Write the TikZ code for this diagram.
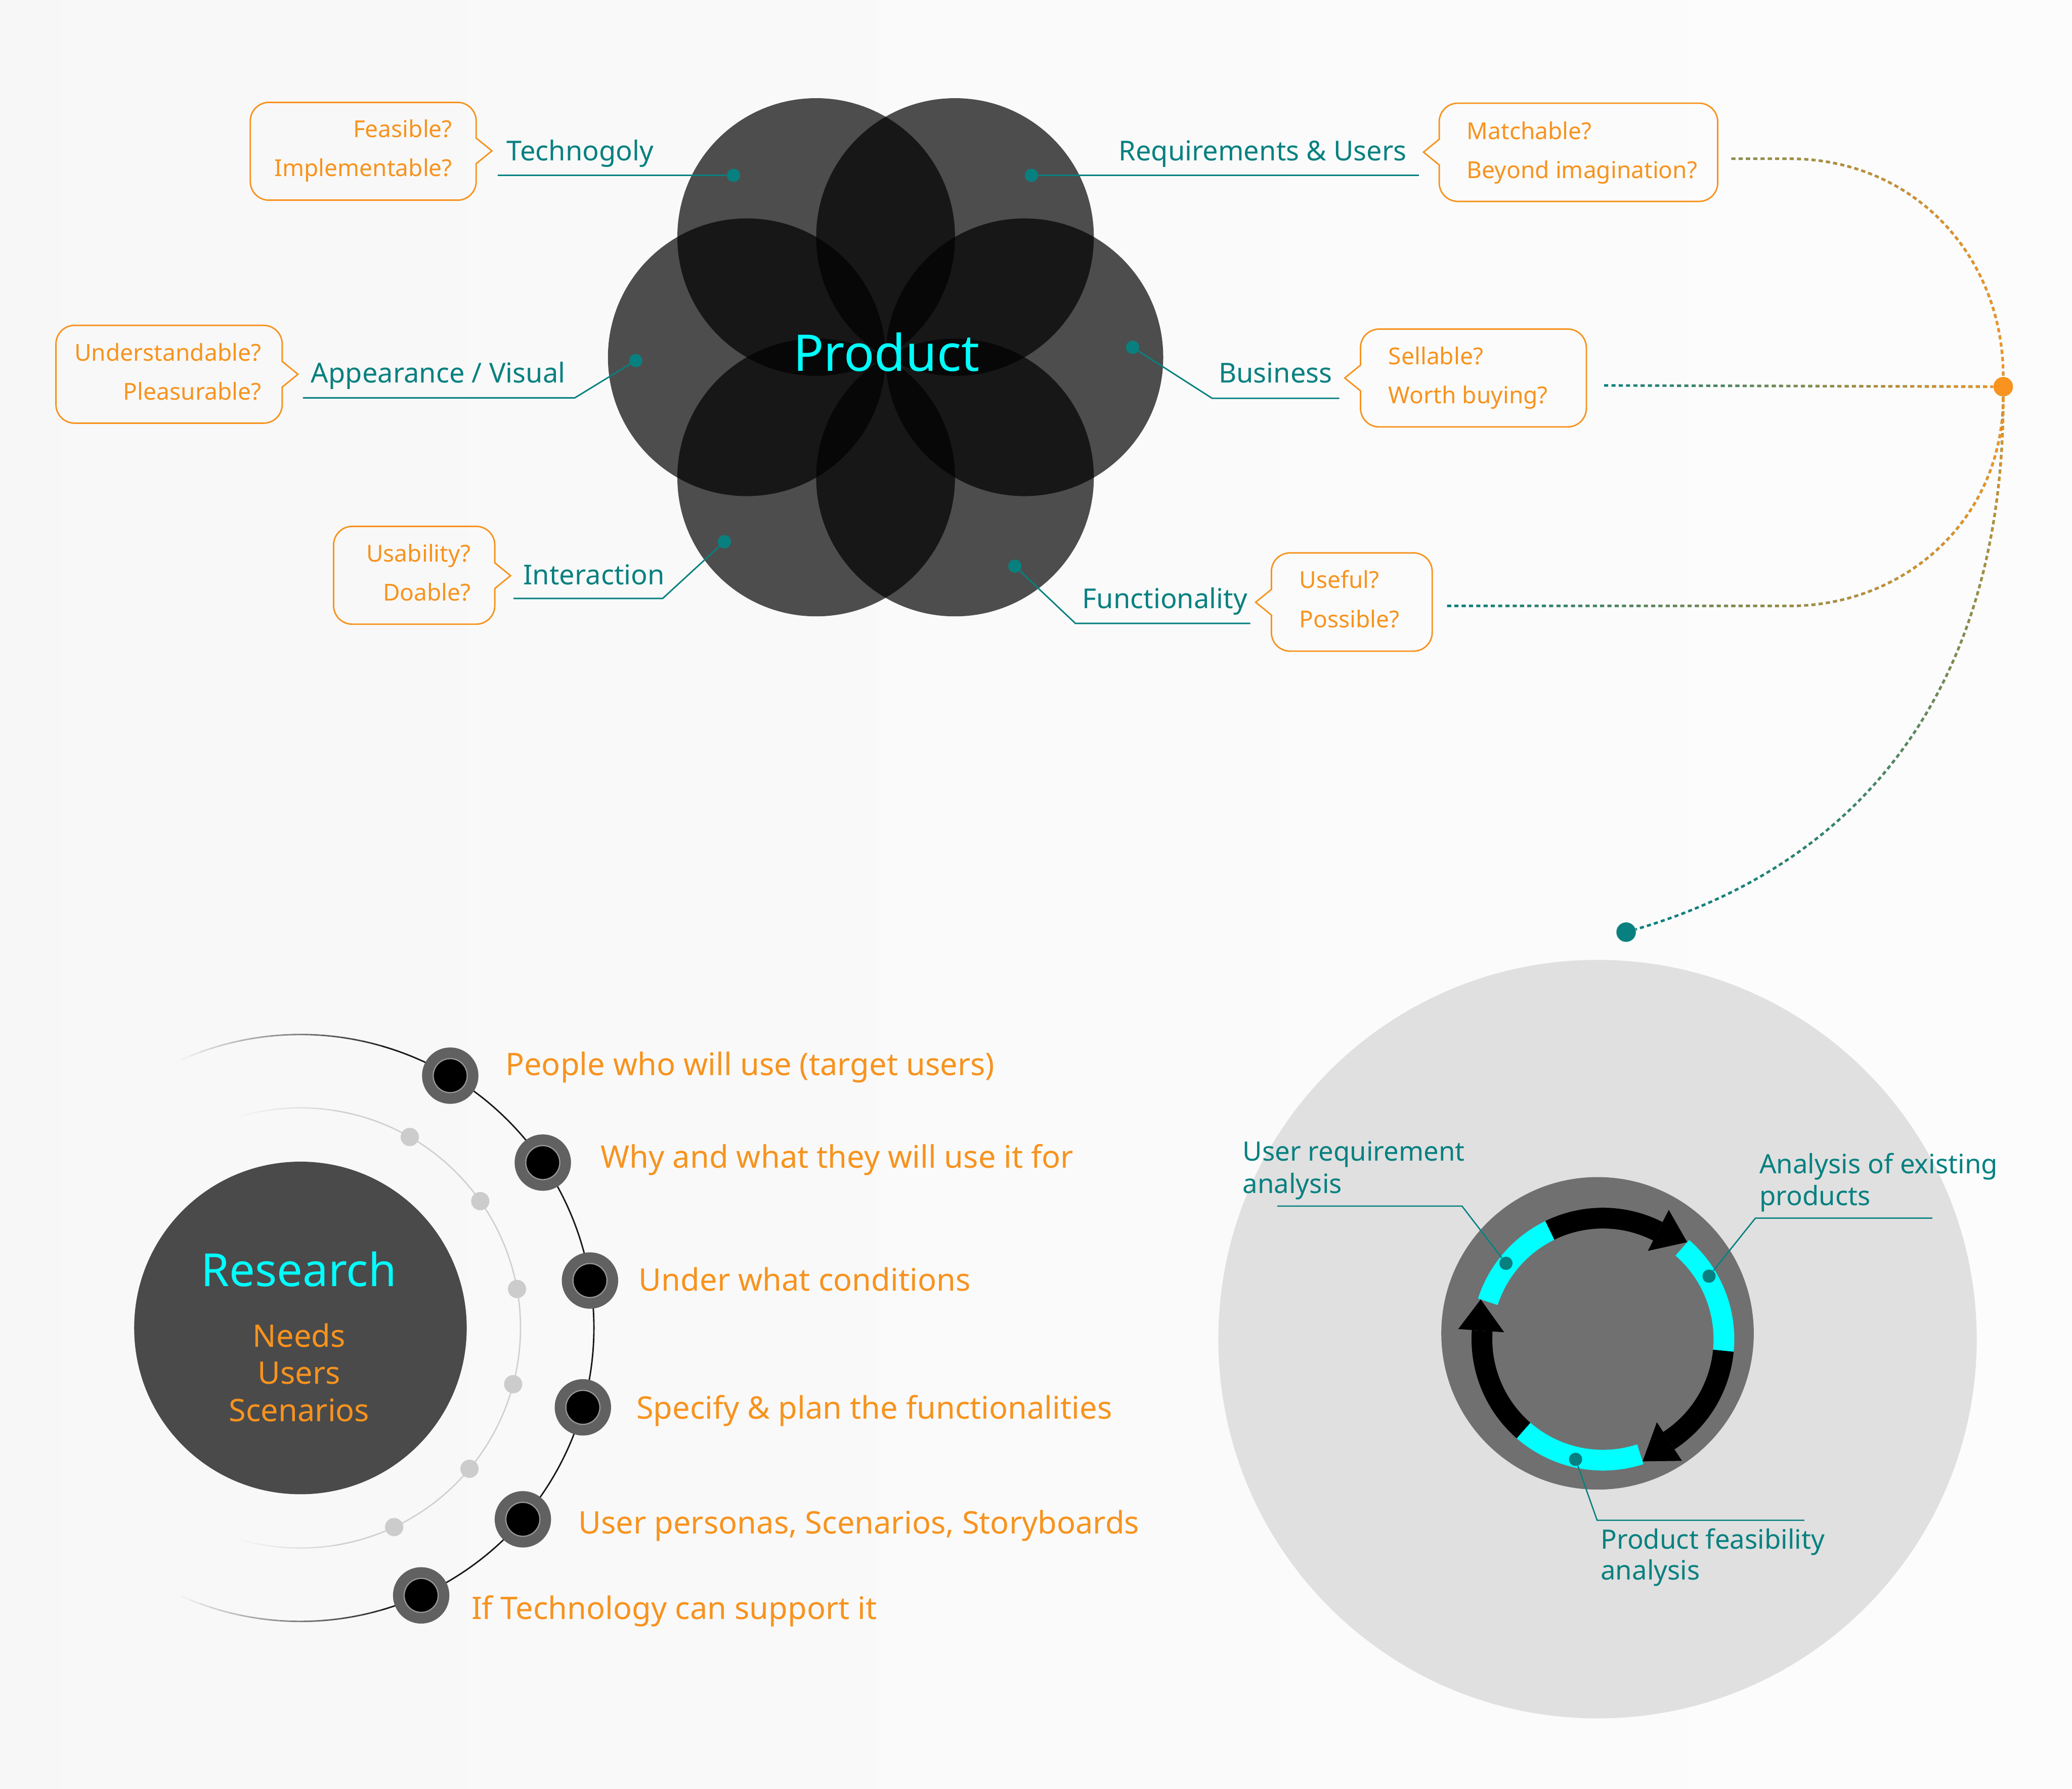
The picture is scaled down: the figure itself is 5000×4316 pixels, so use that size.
\documentclass[tikz,border=0pt]{standalone}
\usepackage{fontspec}
\setmainfont{Noto Sans}
\usetikzlibrary{fadings}
\definecolor{tealc}{RGB}{8,128,128}
\definecolor{orangec}{RGB}{247,147,30}
\definecolor{cyanc}{RGB}{0,255,255}
\tikzfading[name=fadeR, left color=transparent!100, right color=transparent!0]
\tikzfading[name=fadeRhalf, left color=transparent!45, right color=transparent!0]
\tikzfading[name=fadeT, top color=transparent!0, bottom color=transparent!100]
\newcommand{\fsz}[1]{\fontsize{#1}{#1}\selectfont}
% pointer on the right: L T R B pointer-mid (pixel units, y downwards)
\newcommand{\calloutR}[5]{%
\draw[callout] (#1+45,-#2) -- (#3-45,-#2) arc[start angle=90,end angle=0,radius=45]
 -- (#3,-#5+31) -- (#3+38,-#5) -- (#3,-#5-31) -- (#3,-#4+45)
 arc[start angle=0,end angle=-90,radius=45] -- (#1+45,-#4)
 arc[start angle=270,end angle=180,radius=45] -- (#1,-#2-45)
 arc[start angle=180,end angle=90,radius=45] -- cycle;}
% pointer on the left
\newcommand{\calloutL}[5]{%
\draw[callout] (#1+45,-#2) -- (#3-45,-#2) arc[start angle=90,end angle=0,radius=45]
 -- (#3,-#4+45) arc[start angle=0,end angle=-90,radius=45] -- (#1+45,-#4)
 arc[start angle=270,end angle=180,radius=45] -- (#1,-#5-31) -- (#1-38,-#5) -- (#1,-#5+31)
 -- (#1,-#2-45) arc[start angle=180,end angle=90,radius=45] -- cycle;}
\tikzset{
 lbl/.style={text=tealc, font=\fsz{18.8}, inner sep=0},
 qtxt/.style={text=orangec, font=\fsz{16}, inner sep=0},
 ltxt/.style={text=orangec, font=\fsz{21.3}, inner sep=0},
 rtxt/.style={text=tealc, font=\fsz{18.3}, inner sep=0},
 callout/.style={draw=orangec, line width=1pt},
 conn/.style={draw=tealc, line width=1pt},
 tdot/.style={circle, fill=tealc, inner sep=0, minimum size=0.32cm},
 petal/.style={fill=black, fill opacity=0.69},
 dotl/.style={line width=1.7pt, dash pattern=on 2.8pt off 2.2pt},
 bigdot/.style={circle, inner sep=0, minimum size=0.47cm},
 gdot/.style={circle, fill=black!20, inner sep=0, minimum size=0.44cm},
 outring/.style={circle, fill=black!62, inner sep=0, minimum size=1.36cm},
 inblack/.style={circle, fill=black, draw=black!40, line width=0.8pt, inner sep=0, minimum size=0.82cm},
}
\begin{document}
\begin{tikzpicture}[x=0.01cm,y=0.01cm]
\useasboundingbox (0,0) rectangle (5000,-4316);
\shade[left color=black!3, right color=black!1] (0,0) rectangle (5000,-4316);

% ---------- Product flower ----------
\foreach \a in {0,60,...,300}
  \fill[petal] (2137,-862) ++(\a:335) circle[radius=335];
\node[font=\fsz{34.7}, text=cyanc, anchor=base, inner sep=0] (prod) at (2139,-895) {Product};

% dots on petals
\node[tdot] (dT) at (1770,-423) {};
\node[tdot] (dA) at (1534,-870) {};
\node[tdot] (dI) at (1748,-1307) {};
\node[tdot] (dR) at (2489,-423) {};
\node[tdot] (dB) at (2733,-838) {};
\node[tdot] (dF) at (2449,-1366) {};

% connector ends
\coordinate (eT) at (1201,-423);
\coordinate (kA) at (1387,-960); \coordinate (eA) at (731,-960);
\coordinate (kI) at (1599,-1444); \coordinate (eI) at (1239,-1444);
\coordinate (eR) at (3424,-423);
\coordinate (kB) at (2925,-961); \coordinate (eB) at (3232,-961);
\coordinate (kF) at (2595,-1504); \coordinate (eF) at (3017,-1504);

\draw[conn] (dT) -- (eT);
\draw[conn] (dA) -- (kA) -- (eA);
\draw[conn] (dI) -- (kI) -- (eI);
\draw[conn] (dR) -- (eR);
\draw[conn] (dB) -- (kB) -- (eB);
\draw[conn] (dF) -- (kF) -- (eF);

% labels
\node[lbl, anchor=base west] (lT) at (1222,-388) {Technogoly};
\node[lbl, anchor=base west] (lA) at (750,-923) {Appearance / Visual};
\node[lbl, anchor=base west] (lI) at (1262,-1410) {Interaction};
\node[lbl, anchor=base east] (lR) at (3395,-388) {Requirements \& Users};
\node[lbl, anchor=base west] (lB) at (2940,-923) {Business};
\node[lbl, anchor=base west] (lF) at (2611,-1468) {Functionality};

% callouts
\calloutR{604}{247}{1149}{483}{364}
\calloutR{135}{785}{681}{1021}{903}
\calloutR{805}{1270}{1194}{1506}{1389}
\calloutL{3473}{249}{4145}{486}{367}
\calloutL{3283}{794}{3828}{1030}{912}
\calloutL{3068}{1334}{3456}{1571}{1453}

\node[qtxt, anchor=base east] (q1) at (1092,-332) {Feasible?};
\node[qtxt, anchor=base east] (q2) at (1092,-425) {Implementable?};
\node[qtxt, anchor=base east] (q3) at (631,-871) {Understandable?};
\node[qtxt, anchor=base east] (q4) at (631,-965) {Pleasurable?};
\node[qtxt, anchor=base east] (q5) at (1137,-1356) {Usability?};
\node[qtxt, anchor=base east] (q6) at (1137,-1450) {Doable?};
\node[qtxt, anchor=base west] (q7) at (3539,-336) {Matchable?};
\node[qtxt, anchor=base west] (q8) at (3539,-430) {Beyond imagination?};
\node[qtxt, anchor=base west] (q9) at (3350,-880) {Sellable?};
\node[qtxt, anchor=base west] (q10) at (3350,-974) {Worth buying?};
\node[qtxt, anchor=base west] (q11) at (3135,-1419) {Useful?};
\node[qtxt, anchor=base west] (q12) at (3135,-1514) {Possible?};

% ---------- dotted gradient connectors ----------
\node[bigdot] (odot) at (4834,-933) {};
\node[bigdot] (tdotB) at (3924,-2249) {};
\coordinate (sR) at (4178,-383);
\coordinate (sB) at (3871,-930);
\coordinate (sF) at (3492,-1462);

\draw[dotl, tealc] (sR) -- (4318,-383) .. controls (4620,-383) and (4834,-620) .. (odot.north);
\draw[dotl, orangec, path fading=fadeRhalf] (sR) -- (4318,-383) .. controls (4620,-383) and (4834,-620) .. (odot.north);
\draw[dotl, tealc] (sB) -- (odot);
\draw[dotl, orangec, path fading=fadeR] (sB) -- (odot);
\draw[dotl, tealc] (sF) -- (4318,-1462) .. controls (4600,-1462) and (4834,-1250) .. (odot.south);
\draw[dotl, orangec, path fading=fadeR] (sF) -- (4318,-1462) .. controls (4600,-1462) and (4834,-1250) .. (odot.south);
\draw[dotl, tealc] (odot.south) .. controls (4834,-1650) and (4500,-2080) .. (tdotB);
\draw[dotl, orangec, path fading=fadeT] (odot.south) .. controls (4834,-1650) and (4500,-2080) .. (tdotB);
\node[bigdot, fill=orangec] at (odot) {};
\node[bigdot, fill=tealc] at (tdotB) {};

% ---------- Analysis circle ----------
\fill[black!12] (3855,-3231) circle[radius=915];
\fill[black!56] (3855,-3217) circle[radius=377];
\coordinate (rc) at (3868,-3231);
\foreach \s/\e in {162/116, 49/-5.5, -72/-131}
  \draw[cyanc, line width=0.5cm] ([shift={(\s:292)}]rc) arc[start angle=\s, end angle=\e, radius=292];
\foreach \s/\e/\t in {116/63/49, -5.5/-57/-72, 229/176/162}{
  \draw[black, line width=0.5cm] ([shift={(\s:292)}]rc) arc[start angle=\s, end angle=\e, radius=292];
  \fill[black] ([shift={(\e:239)}]rc) -- ([shift={(\e:350)}]rc) -- ([shift={(\t:310)}]rc) -- cycle;
}
\node[tdot] (dU) at (3634,-3048) {};
\node[tdot] (dE) at (4124,-3079) {};
\node[tdot] (dP) at (3802,-3521) {};
\coordinate (kU) at (3528,-2910); \coordinate (eU) at (3082,-2910);
\coordinate (kE) at (4236,-2939); \coordinate (eE) at (4663,-2939);
\coordinate (kP) at (3854,-3668); \coordinate (eP) at (4354,-3668);
\draw[conn, line width=0.9pt] (dU) -- (kU) -- (eU);
\draw[conn, line width=0.9pt] (dE) -- (kE) -- (eE);
\draw[conn, line width=0.9pt] (dP) -- (kP) -- (eP);
\node[rtxt, anchor=base west] (u1) at (2998,-2801) {User requirement};
\node[rtxt, anchor=base west] (u2) at (2998,-2879) {analysis};
\node[rtxt, anchor=base west] (a1) at (4245,-2831) {Analysis of existing};
\node[rtxt, anchor=base west] (a2) at (4245,-2908) {products};
\node[rtxt, anchor=base west] (p1) at (3862,-3737) {Product feasibility};
\node[rtxt, anchor=base west] (p2) at (3862,-3812) {analysis};

% ---------- Research ----------
\coordinate (rcen) at (725,-3204);
\node[circle, fill=black!71, inner sep=0, minimum size=8.02cm] (res) at (rcen) {};
\node[font=\fsz{31.3}, text=cyanc, anchor=base, inner sep=0] (rt) at (721,-3104) {Research};
\node[font=\fsz{21.3}, text=orangec, anchor=base, inner sep=0] (r1) at (722,-3250) {Needs};
\node[font=\fsz{21.3}, text=orangec, anchor=base, inner sep=0] (r2) at (722,-3339) {Users};
\node[font=\fsz{21.3}, text=orangec, anchor=base, inner sep=0] (r3) at (722,-3430) {Scenarios};

% inner light arc
\draw[black!19, line width=0.9pt] ([shift={(81:531)}]rcen) arc[start angle=81, end angle=-81, radius=531];
\foreach \i in {0,...,14}{
  \pgfmathtruncatemacro{\cc}{2+\i}
  \pgfmathsetmacro{\sa}{111-2*\i}\pgfmathsetmacro{\ea}{109-2*\i}
  \draw[black!\cc, line width=0.9pt] ([shift={(\sa:531)}]rcen) arc[start angle=\sa, end angle=\ea, radius=531];
  \draw[black!\cc, line width=0.9pt] ([shift={(-\sa:531)}]rcen) arc[start angle=-\sa, end angle=-\ea, radius=531];
}
\foreach \a/\n in {60.2/1,35.2/2,10.2/3,-14.8/4,-39.8/5,-64.8/6}
  \node[gdot] (g\n) at ([shift={(\a:531)}]rcen) {};

% outer arc
\draw[black!90, line width=1pt] ([shift={(74:708)}]rcen) arc[start angle=74, end angle=-74, radius=708];
\foreach \i in {0,...,19}{
  \pgfmathtruncatemacro{\cc}{6+4*\i}
  \pgfmathsetmacro{\sa}{114-2*\i}\pgfmathsetmacro{\ea}{112-2*\i}
  \draw[black!\cc, line width=1pt] ([shift={(\sa:708)}]rcen) arc[start angle=\sa, end angle=\ea, radius=708];
  \draw[black!\cc, line width=1pt] ([shift={(-\sa:708)}]rcen) arc[start angle=-\sa, end angle=-\ea, radius=708];
}
\foreach \a/\n in {59.3/1,34.3/2,9.3/3,-15.7/4,-40.7/5,-65.7/6}{
  \node[outring] (o\n) at ([shift={(\a:708)}]rcen) {};
  \node[inblack] (n\n) at ([shift={(\a:708)}]rcen) {};
}
\node[ltxt, anchor=base west] (t1) at (1219,-2594) {People who will use (target users)};
\node[ltxt, anchor=base west] (t2) at (1449,-2818) {Why and what they will use it for};
\node[ltxt, anchor=base west] (t3) at (1541,-3114) {Under what conditions};
\node[ltxt, anchor=base west] (t4) at (1535,-3423) {Specify \& plan the functionalities};
\node[ltxt, anchor=base west] (t5) at (1395,-3700) {User personas, Scenarios, Storyboards};
\node[ltxt, anchor=base west] (t6) at (1137,-3907) {If Technology can support it};
\end{tikzpicture}
\end{document}
